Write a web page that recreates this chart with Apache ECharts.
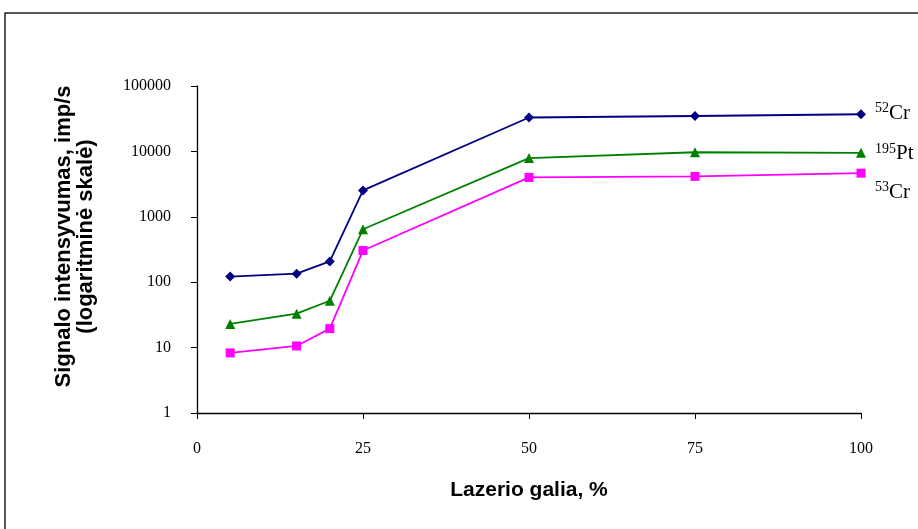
<!DOCTYPE html>
<html><head><meta charset="utf-8">
<script src="https://cdn.jsdelivr.net/npm/echarts@6/dist/echarts.min.js"></script>
<style>html,body{margin:0;padding:0;background:#fff}#c{width:918px;height:529px}</style>
</head><body><div id="c"></div>
<script>
var xValues = [5, 15, 20, 25, 50, 75, 100];
var cr52 = [122, 135, 208, 2530, 33000, 34800, 37000];
var pt195 = [23, 33, 52, 645, 7900, 9700, 9500];
var cr53 = [8.3, 10.6, 19.5, 305, 4000, 4150, 4650];
var seriesNames = [['52', 'Cr'], ['195', 'Pt'], ['53', 'Cr']];
var xTicks = [0, 25, 50, 75, 100];
var yTicks = [1, 10, 100, 1000, 10000, 100000];

function pairs(v) { return xValues.map(function (x, i) { return [x, v[i]]; }); }
var richStyle = {
  s: { fontFamily: 'Liberation Serif', fontSize: 14, color: '#000', verticalAlign: 'top', padding: [0, 0, 9, 0] },
  t: { fontFamily: 'Liberation Serif', fontSize: 21, color: '#000' }
};
function mk(name, data, color, symbol, size, dy, sname) {
  return {
    name: name, type: 'line', data: pairs(data),
    symbol: symbol, symbolSize: size,
    lineStyle: { color: color, width: 1.8 },
    itemStyle: { color: color },
    endLabel: {
      show: true, distance: 14, offset: [0, dy],
      formatter: '{s|' + sname[0] + '}{t|' + sname[1] + '}',
      rich: richStyle
    },
    animation: false
  };
}
var chart = echarts.init(document.getElementById('c'));
chart.setOption({
  backgroundColor: '#fff',
  animation: false,
  graphic: [{ type: 'rect', shape: { x: 5, y: 13, width: 1000, height: 600 }, style: { fill: 'none', stroke: '#222', lineWidth: 1.5 } }],
  grid: { left: 197, right: 57, top: 86, bottom: 116 },
  xAxis: {
    type: 'value', min: 0, max: 100, interval: 25,
    name: 'Lazerio galia, %', nameLocation: 'middle', nameGap: 67,
    nameTextStyle: { fontFamily: 'Liberation Sans', fontWeight: 'bold', fontSize: 21, color: '#000' },
    axisLine: { lineStyle: { color: '#000', width: 1.3 } },
    axisTick: { show: true, length: 6, lineStyle: { color: '#000' } },
    axisLabel: { margin: 28, fontFamily: 'Liberation Serif', fontSize: 16, color: '#000',
      formatter: function (v) { return xTicks.indexOf(v) >= 0 ? String(v) : ''; } },
    splitLine: { show: false }
  },
  yAxis: {
    type: 'log', logBase: 10, min: 1, max: 100000,
    name: 'Signalo intensyvumas, imp/s\n(logaritminė skalė)', nameLocation: 'middle', nameGap: 100,
    nameTextStyle: { fontFamily: 'Liberation Sans', fontWeight: 'bold', fontSize: 22, color: '#000', lineHeight: 22, padding: [0, 0, 0, 26] },
    axisLine: { show: true, lineStyle: { color: '#000', width: 1.3 } },
    axisTick: { show: true, length: 6, lineStyle: { color: '#000' } },
    minorTick: { show: false },
    axisLabel: { margin: 26, fontFamily: 'Liberation Serif', fontSize: 16, color: '#000',
      formatter: function (v) { return yTicks.indexOf(Math.round(v)) >= 0 ? String(Math.round(v)) : ''; } },
    splitLine: { show: false }
  },
  series: [
    mk('52Cr', cr52, '#000080', 'diamond', 10, -1, seriesNames[0]),
    mk('195Pt', pt195, '#008000', 'triangle', 10, 1, seriesNames[1]),
    mk('53Cr', cr53, '#FF00FF', 'rect', 9, 19, seriesNames[2])
  ]
});
</script></body></html>
